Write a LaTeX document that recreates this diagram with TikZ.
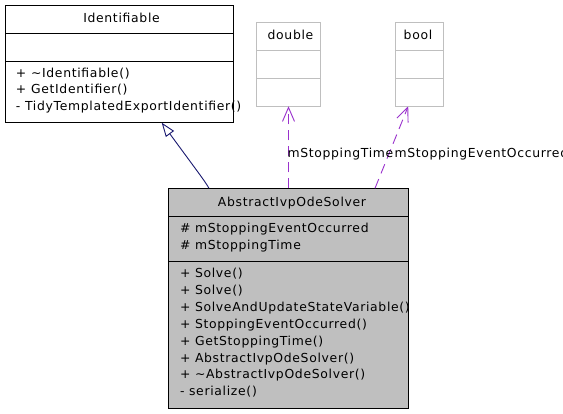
\documentclass[tikz,border=0pt]{standalone}
\usepackage{fontspec}
\setmainfont{DejaVu Sans}[LetterSpace=5.5]
\usetikzlibrary{arrows.meta,calc}
\definecolor{edgeblue}{HTML}{191970}
\definecolor{edgepurple}{HTML}{9A32CD}
\definecolor{boxgray}{HTML}{BFBFBF}
\begin{document}
\begin{tikzpicture}[x=1pt,y=-1pt,
  font=\fontsize{12.4}{14}\selectfont,
  classbox/.style={draw=black,line width=1pt,inner sep=0pt,outer sep=0pt,anchor=north west},
  typebox/.style={draw=boxgray,line width=1pt,inner sep=0pt,outer sep=0pt,anchor=north west,fill=white},
  divline/.style={line width=1pt,draw=black},
  typediv/.style={line width=1pt,draw=boxgray},
  txt/.style={inner sep=0pt,outer sep=0pt,anchor=base west},
  ttl/.style={inner sep=0pt,outer sep=0pt,anchor=base},
  inherit/.style={draw=edgeblue,line width=0.9pt,-{Triangle[open,length=14pt,width=10pt]}},
  usage/.style={draw=edgepurple,line width=0.9pt,dash pattern=on 10pt off 6pt,-{Straight Barb[length=14pt,width=12pt]}},
  lbl/.style={inner sep=0pt,outer sep=0pt,anchor=base west}]
\useasboundingbox (0,0) rectangle (563,413);
\fill[white] (0,0) rectangle (563,413);

% Identifiable
\node[classbox,minimum width=228pt,minimum height=117.7pt] (ident) at (5,5) {};
\draw[divline] (5,33.3) -- (233,33.3);
\draw[divline] (5,61.3) -- (233,61.3);
\node[ttl] (identT) at (121.5,22.6) {Identifiable};
\node[txt] (identM1) at (16,77) {+ \textasciitilde Identifiable()};
\node[txt] (identM2) at (16,93.7) {+ GetIdentifier()};
\node[txt] (identM3) at (16,110.4) {- TidyTemplatedExportIdentifier()};

% double
\node[typebox,minimum width=63.6pt,minimum height=83.6pt] (dbl) at (256.7,22.7) {};
\draw[typediv] (256.7,50.7) -- (320.3,50.7);
\draw[typediv] (256.7,78.7) -- (320.3,78.7);
\node[ttl] (dblT) at (290.5,39.3) {double};

% bool
\node[typebox,minimum width=47.6pt,minimum height=83.6pt] (bool) at (395.7,22.7) {};
\draw[typediv] (395.7,50.7) -- (443.3,50.7);
\draw[typediv] (395.7,78.7) -- (443.3,78.7);
\node[ttl] (boolT) at (418,39.3) {bool};

% AbstractIvpOdeSolver
\node[classbox,fill=boxgray,minimum width=240.4pt,minimum height=220pt] (abs) at (168.3,188.3) {};
\draw[divline] (168.3,216.7) -- (408.7,216.7);
\draw[divline] (168.3,261) -- (408.7,261);
\node[ttl] (absT) at (292,206) {AbstractIvpOdeSolver};
\node[txt] (absA1) at (180,232.6) {\# mStoppingEventOccurred};
\node[txt] (absA2) at (180,249.3) {\# mStoppingTime};
\node[txt] (absM1) at (180,277.5) {+ Solve()};
\node[txt] (absM2) at (180,294.4) {+ Solve()};
\node[txt] (absM3) at (180,311.3) {+ SolveAndUpdateStateVariable()};
\node[txt] (absM4) at (180,328.2) {+ StoppingEventOccurred()};
\node[txt] (absM5) at (180,345.1) {+ GetStoppingTime()};
\node[txt] (absM6) at (180,362) {+ AbstractIvpOdeSolver()};
\node[txt] (absM7) at (180,378.9) {+ \textasciitilde AbstractIvpOdeSolver()};
\node[txt] (absM8) at (180,395.8) {- serialize()};

% connectors
\coordinate (inhS) at ($(abs.north west)+(40.7,0)$);
\coordinate (inhT) at ($(ident.south west)+(156.7,0)$);
\draw[inherit] (inhS) .. controls ($(inhS)+(-4,-7)$) and ($(inhS)+(-8,-12)$) .. (inhT);
\draw[usage] (abs.north -| dbl.south) -- (dbl.south);
\coordinate (boolS) at ($(abs.north west)+(206.7,0)$);
\coordinate (boolE) at ($(bool.south west)+(12.5,0)$);
\draw[usage] (boolS) -- (boolE);

\node[lbl] (lblT) at (287.5,157.7) {mStoppingTime};
\node[lbl] (lblE) at (394.5,157.7) {mStoppingEventOccurred};
\end{tikzpicture}
\end{document}
